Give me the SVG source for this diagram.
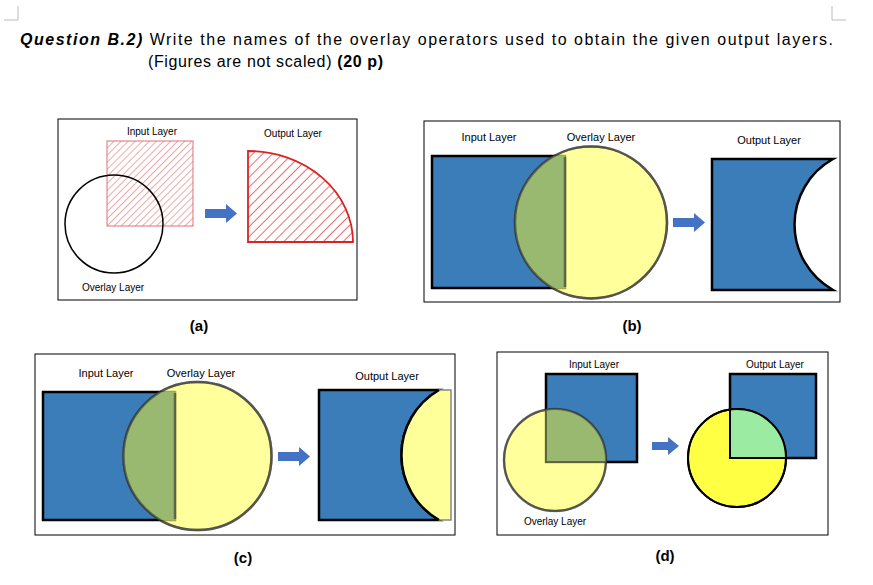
<svg xmlns="http://www.w3.org/2000/svg" width="873" height="585" viewBox="0 0 873 585">
<style>
text{font-family:"Liberation Sans",Arial,sans-serif;fill:#000}
.lbl{font-size:11px;text-anchor:middle}
.sm{font-size:10px;text-anchor:middle}
.cap{font-size:15px;font-weight:bold;text-anchor:middle}
.frame{fill:#fff;stroke:#000;stroke-width:1}
.blue{fill:#3A7DB8;stroke:#000;stroke-width:2.5}
.ycirc{fill:#FFFF66;fill-opacity:0.65;stroke:#333;stroke-opacity:0.6;stroke-width:2.5}
.green{fill:#98B96F}
.arrow{fill:#4472C4}
</style>
<defs>
<pattern id="h1" patternUnits="userSpaceOnUse" width="5" height="5" patternTransform="rotate(45)"><line x1="0" y1="0" x2="0" y2="5" stroke="#e07070" stroke-width="1.2"/></pattern>
<pattern id="h2" patternUnits="userSpaceOnUse" width="7" height="7" patternTransform="rotate(45)"><line x1="0" y1="0" x2="0" y2="7" stroke="#d22" stroke-width="1.3"/></pattern>
<clipPath id="cb"><rect x="432" y="156" width="133" height="132"/></clipPath>
<clipPath id="cc"><rect x="43" y="392" width="132" height="128"/></clipPath>
<clipPath id="cd"><rect x="546" y="374" width="91" height="88"/></clipPath>
<clipPath id="cd2"><rect x="730" y="374" width="86" height="84"/></clipPath>
</defs>
<rect width="873" height="585" fill="#fff"/>
<path d="M18,6 V20 H4" fill="none" stroke="#bbb"/>
<path d="M832,6 V20 H846" fill="none" stroke="#bbb"/>
<text x="20" y="45" font-size="16" textLength="813" lengthAdjust="spacing"><tspan font-weight="bold" font-style="italic">Question B.2)</tspan> Write the names of the overlay operators used to obtain the given output layers.</text>
<text x="148" y="67" font-size="16" textLength="235" lengthAdjust="spacing">(Figures are not scaled) <tspan font-weight="bold">(20 p)</tspan></text>

<g id="panel-a">
<rect class="frame" x="58" y="119" width="299" height="181"/>
<rect x="107" y="141" width="86" height="85" fill="url(#h1)" stroke="#e07070" stroke-width="1"/>
<circle cx="114" cy="224" r="49" fill="none" stroke="#000" stroke-width="1.5"/>
<path class="arrow" d="M205,209 H226 V204 L237,213.5 L226,223 V218 H205 Z"/>
<path d="M248,242 V151 A105,91 0 0 1 353,242 Z" fill="url(#h2)" stroke="#d22" stroke-width="1.8"/>
<text class="sm" x="152" y="135">Input Layer</text>
<text class="sm" x="293" y="137">Output Layer</text>
<text class="sm" x="113" y="291">Overlay Layer</text>
<text class="cap" x="199" y="331">(a)</text>
</g>

<g id="panel-b">
<rect class="frame" x="424" y="121" width="416" height="181"/>
<rect class="blue" x="432" y="156" width="133" height="132"/>
<circle class="ycirc" cx="591" cy="222.5" r="76" stroke="none"/>
<circle class="green" cx="591" cy="222.5" r="76" clip-path="url(#cb)"/>
<path d="M565,157 V287" stroke="#333" stroke-opacity="0.6" stroke-width="2.5"/>
<circle cx="591" cy="222.5" r="76" fill="none" stroke="#333" stroke-opacity="0.6" stroke-width="2.5"/>
<path class="arrow" d="M673,218 H694 V213 L705,222.5 L694,232 V227 H673 Z"/>
<path class="blue" d="M712,159 H833 A75,75 0 0 0 833,290 H712 Z"/>
<text class="lbl" x="489" y="141">Input Layer</text>
<text class="lbl" x="601" y="141">Overlay Layer</text>
<text class="lbl" x="769" y="144">Output Layer</text>
<text class="cap" x="632" y="331">(b)</text>
</g>

<g id="panel-c">
<rect class="frame" x="35" y="354" width="420" height="181"/>
<rect class="blue" x="43" y="392" width="132" height="128"/>
<circle class="ycirc" cx="197.5" cy="456" r="74" stroke="none"/>
<circle class="green" cx="197.5" cy="456" r="74" clip-path="url(#cc)"/>
<path d="M175,393 V519" stroke="#333" stroke-opacity="0.6" stroke-width="2.5"/>
<circle cx="197.5" cy="456" r="74" fill="none" stroke="#333" stroke-opacity="0.6" stroke-width="2.5"/>
<path class="arrow" d="M278,452 H299 V447 L310,456.5 L299,466 V461 H278 Z"/>
<path class="blue" d="M319,390 H439 A75,75 0 0 0 439,520 H319 Z"/>
<path d="M439,390 H451 V520 H439 A75,75 0 0 1 439,390 Z" fill="#FFFF99" stroke="#888" stroke-width="1.5"/>
<path d="M439,390 A75,75 0 0 0 439,520" fill="none" stroke="#000" stroke-width="2.5"/>
<text class="lbl" x="106" y="377">Input Layer</text>
<text class="lbl" x="201" y="377">Overlay Layer</text>
<text class="lbl" x="387" y="380">Output Layer</text>
<text class="cap" x="243" y="563">(c)</text>
</g>

<g id="panel-d">
<rect class="frame" x="497" y="352" width="331" height="183"/>
<rect class="blue" x="546" y="374" width="91" height="88" stroke-width="2"/>
<circle class="ycirc" cx="555" cy="460" r="51" stroke="none"/>
<circle class="green" cx="555" cy="460" r="51" clip-path="url(#cd)"/>
<path d="M546,411 V462 H605" fill="none" stroke="#333" stroke-opacity="0.6" stroke-width="2"/>
<circle cx="555" cy="460" r="51" fill="none" stroke="#333" stroke-opacity="0.6" stroke-width="2"/>
<path class="arrow" d="M652,442 H668 V437 L679,446 L668,455 V450 H652 Z"/>
<rect class="blue" x="730" y="374" width="86" height="84" stroke-width="2"/>
<circle cx="737" cy="458" r="49" fill="#FFFF44" stroke="#000" stroke-width="2"/>
<circle cx="737" cy="458" r="49" clip-path="url(#cd2)" fill="#9BEBA3"/>
<path d="M730,410 V458 H786" fill="none" stroke="#000" stroke-width="2"/>
<circle cx="737" cy="458" r="49" fill="none" stroke="#000" stroke-width="2"/>
<text class="sm" x="594" y="368">Input Layer</text>
<text class="sm" x="775" y="368">Output Layer</text>
<text class="sm" x="555" y="525">Overlay Layer</text>
<text class="cap" x="665" y="561">(d)</text>
</g>
</svg>
